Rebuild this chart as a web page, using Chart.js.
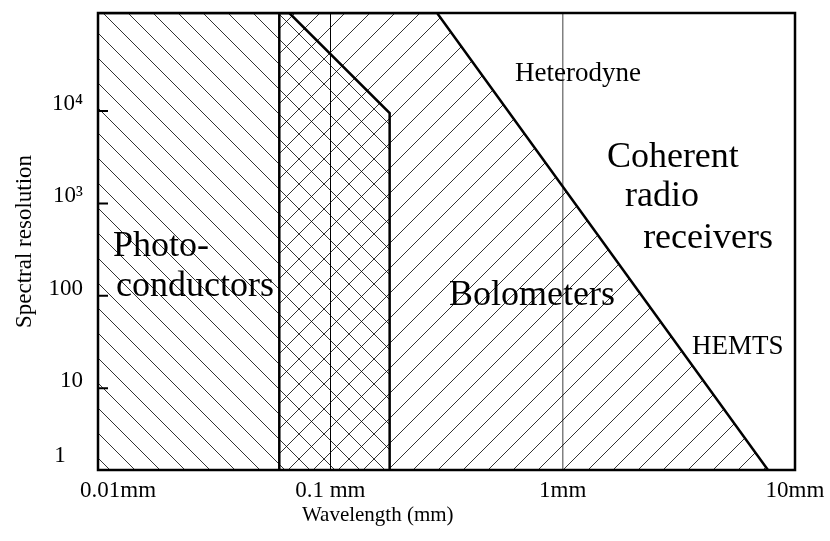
<!DOCTYPE html>
<html>
<head>
<meta charset="utf-8">
<title>Spectral resolution vs wavelength</title>
<script src="https://cdn.jsdelivr.net/npm/chart.js@4/dist/chart.umd.min.js"></script>
<style>
  html, body { margin: 0; padding: 0; background: #fff; }
</style>
</head>
<body>
<canvas id="chart" width="830" height="541"></canvas>
<script>
// wavelength (mm) and spectral resolution, both log
const xTickValues = [0.01, 0.1, 1, 10];
const xTickLabels = ['       0.01mm', '0.1 mm', '1mm', '10mm'];
const yTickValues = [1.3, 10, 100, 1000, 10000];
const yTickLabels = ['1   ', '10', '100', '10³', '10⁴'];

// outlines of the two detector regions
const photoX = [0.01, 0.0666, 0.18, 0.18];
const photoY = [115000, 115000, 9500, 1.3];
const boloX = [0.0603, 0.0603, 0.288, 7.65];
const boloY = [1.3, 115000, 115000, 1.3];

const serif = 'Liberation Serif';

function hatch(dir, phase) {
  const s = 25;
  const c = document.createElement('canvas');
  c.width = s; c.height = s;
  const g = c.getContext('2d');
  g.strokeStyle = 'rgba(0,0,0,0.8)';
  g.lineWidth = 1;
  g.beginPath();
  for (let k = -1; k <= 1; k++) {
    if (dir === 'back') { g.moveTo(k * s, 0); g.lineTo(k * s + s, s); }
    else { g.moveTo(k * s, s); g.lineTo(k * s + s, 0); }
  }
  g.stroke();
  const p = g.createPattern(c, 'repeat');
  p.setTransform(new DOMMatrix().translate(phase, 0));
  return p;
}

// labels placed in data coordinates
const notes = [
  {text: 'Photo-', x: 0.0116, y: 270, size: 36},
  {text: 'conductors', x: 0.01196, y: 100, size: 36},
  {text: 'Bolometers', x: 0.324, y: 80, size: 36},
  {text: 'Heterodyne', x: 0.624, y: 21000, size: 27},
  {text: 'Coherent', x: 1.55, y: 2500, size: 36},
  {text: 'radio', x: 1.855, y: 930, size: 36},
  {text: 'receivers', x: 2.22, y: 325, size: 36},
  {text: 'HEMTS', x: 3.6, y: 23.5, size: 27}
];

const decorations = {
  id: 'decorations',
  afterDraw(chart) {
    const {ctx, chartArea: a, scales: {x, y}} = chart;
    ctx.save();
    ctx.strokeStyle = '#000';
    ctx.lineWidth = 2.5;
    ctx.strokeRect(a.left, a.top, a.right - a.left, a.bottom - a.top);

    ctx.lineWidth = 2;
    ctx.beginPath();
    yTickValues.slice(1).forEach(v => {
      const py = y.getPixelForValue(v);
      ctx.moveTo(a.left, py);
      ctx.lineTo(a.left + 10, py);
    });
    ctx.stroke();

    ctx.fillStyle = '#000';
    ctx.textAlign = 'left';
    ctx.textBaseline = 'alphabetic';
    notes.forEach(n => {
      ctx.font = n.size + 'px "' + serif + '"';
      ctx.fillText(n.text, x.getPixelForValue(n.x), y.getPixelForValue(n.y));
    });

    ctx.font = '21px "' + serif + '"';
    ctx.textAlign = 'center';
    ctx.fillText('Wavelength (mm)', x.getPixelForValue(0.16), a.bottom + 51);
    ctx.restore();
  }
};

new Chart(document.getElementById('chart'), {
  type: 'line',
  data: {
    datasets: [
      {
        label: 'Photoconductors',
        data: photoX.map((v, i) => ({x: v, y: photoY[i]})),
        fill: 'start',
        backgroundColor: hatch('back', 15),
        borderColor: '#000',
        borderWidth: 2.5,
        pointRadius: 0,
        tension: 0
      },
      {
        label: 'Bolometers',
        data: boloX.map((v, i) => ({x: v, y: boloY[i]})),
        fill: 'start',
        backgroundColor: hatch('fwd', 8),
        borderColor: '#000',
        borderWidth: 2.5,
        pointRadius: 0,
        tension: 0
      }
    ]
  },
  options: {
    responsive: false,
    animation: false,
    devicePixelRatio: 1,
    layout: {padding: {top: 13, right: 35, bottom: 0, left: 0}},
    plugins: {legend: {display: false}, tooltip: {enabled: false}},
    scales: {
      x: {
        type: 'logarithmic',
        min: 0.01,
        max: 10,
        afterBuildTicks: s => { s.ticks = xTickValues.map(v => ({value: v})); },
        afterFit: s => { s.height = 71; s.paddingLeft = 0; s.paddingRight = 0; },
        ticks: {
          callback: (v, i) => xTickLabels[i],
          font: {family: serif, size: 23},
          color: '#000',
          padding: 7,
          maxRotation: 0,
          autoSkip: false
        },
        grid: {
          drawTicks: false,
          color: c => c.tick && c.tick.value === 0.1 ? '#000' : (c.tick && c.tick.value === 1 ? '#808080' : 'rgba(0,0,0,0)'),
          lineWidth: c => c.tick && c.tick.value === 1 ? 1.5 : 1
        },
        border: {display: false}
      },
      y: {
        type: 'logarithmic',
        min: 1.3,
        max: 115000,
        afterBuildTicks: s => { s.ticks = yTickValues.map(v => ({value: v})); },
        afterFit: s => { s.width = 98; s.paddingTop = 0; s.paddingBottom = 0; },
        ticks: {
          // extra blank lines lift the labels above their tick, like the original
          callback: (v, i) => i === 0 ? [yTickLabels[i], '', ''] : [yTickLabels[i], ''],
          font: {family: serif, size: 23, lineHeight: 0.61},
          color: '#000',
          padding: 7,
          autoSkip: false
        },
        grid: {display: false},
        border: {display: false},
        title: {
          display: true,
          text: 'Spectral resolution',
          font: {family: serif, size: 23},
          color: '#000',
          padding: {top: 11, bottom: 0}
        }
      }
    }
  },
  plugins: [decorations]
});
</script>
</body>
</html>
